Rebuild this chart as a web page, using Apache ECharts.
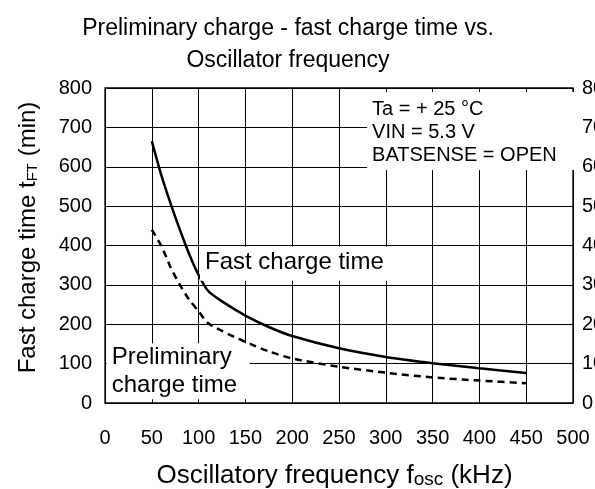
<!DOCTYPE html>
<html>
<head>
<meta charset="utf-8">
<script src="https://cdn.jsdelivr.net/npm/echarts@6/dist/echarts.min.js"></script>
<style>
html,body{margin:0;padding:0;background:#fff;}
#chart{width:595px;height:489px;}
</style>
</head>
<body>
<div id="chart"></div>
<script>
// ---- data ----
var freqFast = [50, 60, 70, 80, 90, 100, 110, 125, 150, 175, 200, 250, 300, 350, 400, 450];
var fastChargeTime = [665, 580, 507, 440, 378, 325, 285, 258, 222, 193, 170, 139, 117, 101, 88, 76];
var freqPre = [50, 60, 70, 80, 90, 100, 110, 125, 150, 175, 200, 250, 300, 350, 400, 450];
var prelimChargeTime = [440, 400, 345, 300, 262, 233, 203, 183, 155, 131, 113, 92, 77, 65, 57, 50];
var xTicks = [0, 50, 100, 150, 200, 250, 300, 350, 400, 450, 500];
var yTicks = [0, 100, 200, 300, 400, 500, 600, 700, 800];
var titleText = 'Preliminary charge - fast charge time vs.\nOscillator frequency';
var conditionLines = ['Ta = + 25 °C', 'VIN = 5.3 V', 'BATSENSE = OPEN'];
var fastLabel = 'Fast charge time';
var prelimLabelLines = ['Preliminary', 'charge time'];
// annotation anchors (data coordinates, top-left of each label box)
var conditionAnchor = [280, 790];
var fastLabelAnchor = [101.5, 397];
var prelimLabelAnchor = [1.8, 152];

function pairs(xs, ys) { return xs.map(function (x, i) { return [x, ys[i]]; }); }

var FONT = '"Liberation Sans", Arial, Helvetica, sans-serif';
var chart = echarts.init(document.getElementById('chart'), null, {renderer: 'canvas'});

var option = {
  backgroundColor: '#ffffff',
  animation: false,
  title: {
    text: titleText,
    left: 283,
    top: 8,
    textAlign: 'center',
    textStyle: {fontFamily: FONT, fontSize: 23, fontWeight: 'normal', color: '#000', lineHeight: 32}
  },
  grid: {
    left: 105, right: 22, top: 88, bottom: 86,
    containLabel: false,
    outerBoundsMode: 'none',
    show: true,
    borderColor: '#000',
    borderWidth: 1.3,
    backgroundColor: 'transparent'
  },
  xAxis: {
    type: 'value',
    min: xTicks[0], max: xTicks[xTicks.length - 1], interval: 50,
    axisLine: {show: false},
    axisTick: {show: false},
    splitLine: {show: true, lineStyle: {color: '#000', width: 1}},
    axisLabel: {color: '#000', fontFamily: FONT, fontSize: 20, margin: 25},
    name: '{a|Oscillatory frequency f}{s|osc}{a| (kHz)}',
    nameLocation: 'middle',
    nameGap: 60,
    nameTextStyle: {
      fontFamily: FONT, fontSize: 26, color: '#000',
      padding: [0, 9, 0, 0],
      rich: {
        a: {fontFamily: FONT, fontSize: 26, color: '#000', verticalAlign: 'bottom'},
        s: {fontFamily: FONT, fontSize: 19, color: '#000', verticalAlign: 'bottom'}
      }
    }
  },
  yAxis: [{
    type: 'value',
    min: yTicks[0], max: yTicks[yTicks.length - 1], interval: 100,
    position: 'left',
    axisLine: {show: false},
    axisTick: {show: false},
    splitLine: {show: true, lineStyle: {color: '#000', width: 1}},
    axisLabel: {color: '#000', fontFamily: FONT, fontSize: 20, margin: 13},
    name: '{a|Fast charge time t}{s|FT}{a| (min)}',
    nameLocation: 'middle',
    nameRotate: 90,
    nameGap: 65,
    nameTextStyle: {
      fontFamily: FONT, fontSize: 24, color: '#000',
      padding: [0, 0, 0, 16],
      rich: {
        a: {fontFamily: FONT, fontSize: 24, color: '#000', verticalAlign: 'bottom'},
        s: {fontFamily: FONT, fontSize: 15, color: '#000', verticalAlign: 'bottom'}
      }
    }
  }, {
    type: 'value',
    min: yTicks[0], max: yTicks[yTicks.length - 1], interval: 100,
    position: 'right',
    axisLine: {show: false},
    axisTick: {show: false},
    splitLine: {show: false},
    axisLabel: {color: '#000', fontFamily: FONT, fontSize: 20, margin: 9}
  }],
  series: [{
    type: 'scatter',
    z: 2,
    data: [],
    silent: true,
    markPoint: {
      symbol: 'rect',
      symbolSize: 0,
      silent: true,
      data: [{
        coord: conditionAnchor,
        label: {
          show: true,
          position: [0, 0],
          align: 'left',
          verticalAlign: 'top',
          formatter: conditionLines.join('\n'),
          fontFamily: FONT, fontSize: 20, lineHeight: 23, color: '#000',
          backgroundColor: '#fff',
          width: 198,
          padding: [6, 5, 3, 5]
        }
      }, {
        coord: fastLabelAnchor,
        label: {
          show: true,
          position: [0, 0],
          align: 'left',
          verticalAlign: 'top',
          formatter: fastLabel,
          fontFamily: FONT, fontSize: 24, lineHeight: 28, color: '#000',
          backgroundColor: '#fff',
          padding: [2, 4, 4, 5]
        }
      }, {
        coord: prelimLabelAnchor,
        label: {
          show: true,
          position: [0, 0],
          align: 'left',
          verticalAlign: 'top',
          formatter: prelimLabelLines.join('\n'),
          fontFamily: FONT, fontSize: 24, lineHeight: 28, color: '#000',
          backgroundColor: '#fff',
          width: 138,
          padding: [0, 0, 0, 5]
        }
      }]
    }
  }, {
    name: 'Fast charge time',
    type: 'line',
    z: 3,
    data: pairs(freqFast, fastChargeTime),
    showSymbol: false,
    smooth: 0.25,
    lineStyle: {color: '#000', width: 2.5, type: 'solid'}
  }, {
    name: 'Preliminary charge time',
    type: 'line',
    z: 3,
    data: pairs(freqPre, prelimChargeTime),
    showSymbol: false,
    smooth: 0.25,
    lineStyle: {color: '#000', width: 2.5, type: [7, 5]}
  }]
};
chart.setOption(option);
</script>
</body>
</html>
